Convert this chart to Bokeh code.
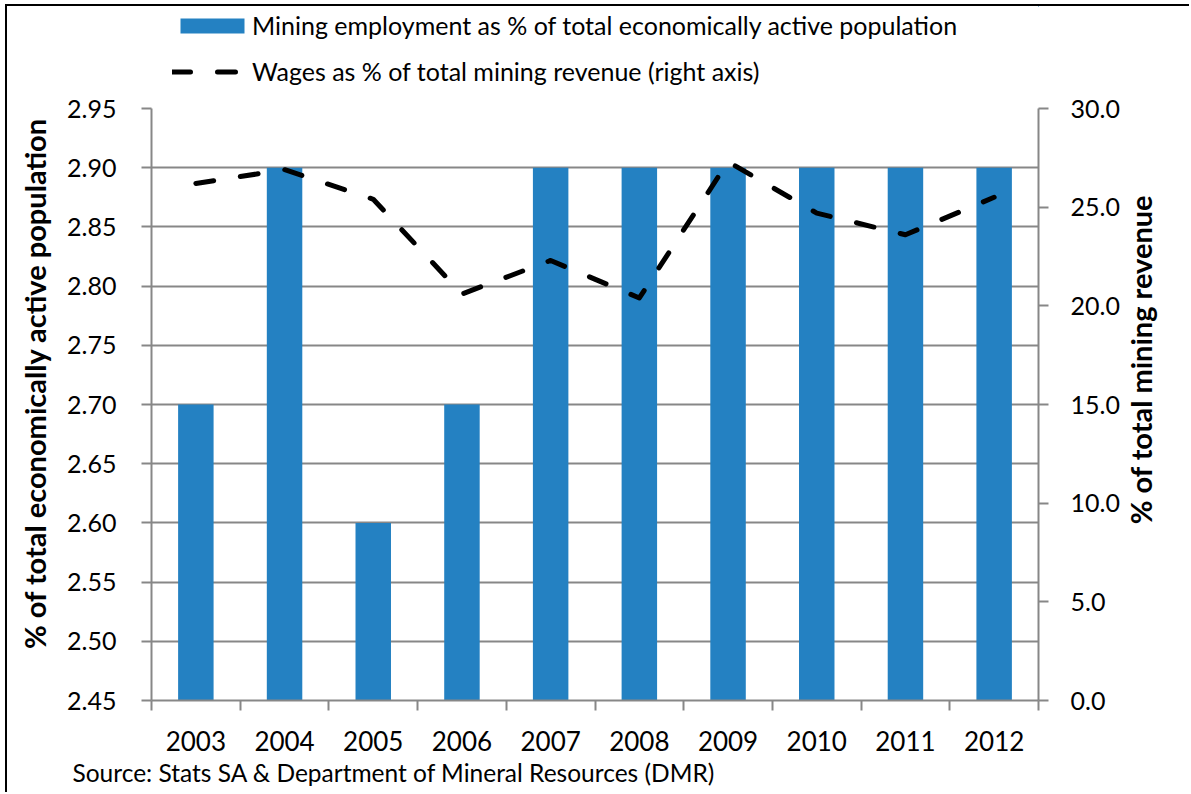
import math
from bokeh.plotting import figure
from bokeh.layouts import column
from bokeh.models import (Range1d, LinearAxis, FixedTicker, NumeralTickFormatter,
                          Legend, LegendItem, Title)
from bokeh.embed import file_html
from bokeh.resources import INLINE

years = ["2003", "2004", "2005", "2006", "2007", "2008", "2009", "2010", "2011", "2012"]
employment = [2.70, 2.90, 2.60, 2.70, 2.90, 2.90, 2.90, 2.90, 2.90, 2.90]
wages = [26.2, 26.9, 25.4, 20.6, 22.3, 20.4, 27.3, 24.7, 23.6, 25.5]
left_ticks = [2.45, 2.50, 2.55, 2.60, 2.65, 2.70, 2.75, 2.80, 2.85, 2.90, 2.95]
right_ticks = [0, 5, 10, 15, 20, 25, 30]
bar_label = "Mining employment as % of total economically active population"
line_label = "Wages as % of total mining revenue (right axis)"
left_title = "% of total economically active population"
right_title = "% of total mining revenue"
source = "Source: Stats SA & Department of Mineral Resources (DMR)"

FONT = "Lato"
GRAY = "#878787"
BLUE = "#2481C2"
NB = "\u00a0"
LINE_KW = dict(line_color="black", line_width=5, line_dash="18 27",
               line_cap="round", line_join="round")

n = len(years)
xs = list(range(n))
bounds = [i - 0.5 for i in range(n + 1)]

ML, MR, FW, FH = 144, 151, 887, 592
TOTAL_W = ML + FW + MR

# ---- legend strip (above the chart); its glyphs fall outside its own ranges ----
lg = figure(width=TOTAL_W, height=84, min_border=0, x_axis_location=None,
            y_axis_location=None, x_range=Range1d(-20, -19), y_range=Range1d(-20, -19),
            output_backend="svg", toolbar_location=None)
lg.outline_line_color = None
lg.grid.visible = False
lg_bar = lg.vbar(x=xs, top=employment, bottom=left_ticks[0], width=0.4,
                 fill_color=BLUE, line_color=None)
lg_line = lg.line(x=xs, y=wages, **LINE_KW)
legend = Legend(items=[LegendItem(label=bar_label, renderers=[lg_bar]),
                       LegendItem(label=line_label, renderers=[lg_line])],
                location=(21, 3), orientation="vertical")
legend.border_line_color = None
legend.background_fill_alpha = 0
legend.margin = 0
legend.padding = 0
legend.spacing = 14
legend.glyph_width = 80
legend.glyph_height = 19
legend.label_height = 32
legend.label_standoff = 0
legend.label_text_font = FONT
legend.label_text_font_size = "25px"
legend.label_text_color = "black"
lg.add_layout(legend, "center")

# ---- main chart ----
p = figure(frame_width=FW, frame_height=FH,
           min_border_left=ML, min_border_right=MR,
           min_border_top=18, min_border_bottom=92,
           x_range=Range1d(-0.5, n - 0.5), y_range=Range1d(left_ticks[0], left_ticks[-1]),
           output_backend="svg", toolbar_location=None)
p.extra_y_ranges = {"right": Range1d(right_ticks[0], right_ticks[-1])}
p.outline_line_color = None
p.background_fill_color = "white"
p.border_fill_color = "white"

bars = p.vbar(x=xs, top=employment, bottom=left_ticks[0], width=0.4,
              fill_color=BLUE, line_color=None)
line = p.line(x=xs, y=wages, y_range_name="right", **LINE_KW)

p.xgrid.visible = False
p.ygrid.ticker = FixedTicker(ticks=left_ticks)
p.ygrid.grid_line_color = GRAY
p.ygrid.grid_line_width = 2

xa = p.xaxis[0]
xa.ticker = FixedTicker(ticks=xs, minor_ticks=bounds)
xa.major_label_overrides = {i: y for i, y in zip(xs, years)}
xa.major_tick_out = 0
xa.major_tick_in = 0
xa.minor_tick_out = 10
xa.minor_tick_in = 0
xa.minor_tick_line_color = GRAY
xa.minor_tick_line_width = 2
xa.axis_line_color = GRAY
xa.axis_line_width = 2
xa.major_label_text_font = FONT
xa.major_label_text_font_size = "26px"
xa.major_label_text_color = "black"
xa.major_label_standoff = 20

ya = p.yaxis[0]
ya.ticker = FixedTicker(ticks=left_ticks)
ya.formatter = NumeralTickFormatter(format="0.00")
ya.axis_label = NB * 6 + left_title
ya.axis_label_text_font = FONT
ya.axis_label_text_font_size = "29px"
ya.axis_label_text_font_style = "bold"
ya.axis_label_text_color = "black"
ya.axis_label_standoff = 12
ya.major_label_text_font = FONT
ya.major_label_text_font_size = "25px"
ya.major_label_text_color = "black"
ya.major_label_standoff = 25
ya.major_tick_out = 10
ya.major_tick_in = 0
ya.minor_tick_line_color = None
ya.major_tick_line_color = GRAY
ya.major_tick_line_width = 2
ya.axis_line_color = GRAY
ya.axis_line_width = 2

ra = LinearAxis(y_range_name="right", ticker=FixedTicker(ticks=right_ticks),
                formatter=NumeralTickFormatter(format="0.0"),
                axis_label=NB * 25 + right_title)
ra.axis_label_text_font = FONT
ra.axis_label_text_font_size = "29px"
ra.axis_label_text_font_style = "bold"
ra.axis_label_text_color = "black"
ra.axis_label_standoff = 18
ra.axis_label_orientation = math.pi / 2
ra.axis_label_align = "start"
ra.major_label_text_font = FONT
ra.major_label_text_font_size = "25px"
ra.major_label_text_color = "black"
ra.major_label_standoff = 22
ra.major_tick_out = 10
ra.major_tick_in = 0
ra.minor_tick_line_color = None
ra.major_tick_line_color = GRAY
ra.major_tick_line_width = 2
ra.axis_line_color = GRAY
ra.axis_line_width = 2
p.add_layout(ra, "right")

src = Title(text=source, align="left", offset=-79, text_font=FONT, text_font_size="24.5px",
            text_font_style="normal", text_color="black", standoff=5)
p.add_layout(src, "below")

page = column(lg, p, spacing=0)
page.styles = {"margin-left": "5px", "margin-top": "4px",
               "border-left": "2px solid black", "border-top": "2px solid black"}

open("out.html", "w").write(file_html(page, INLINE))
